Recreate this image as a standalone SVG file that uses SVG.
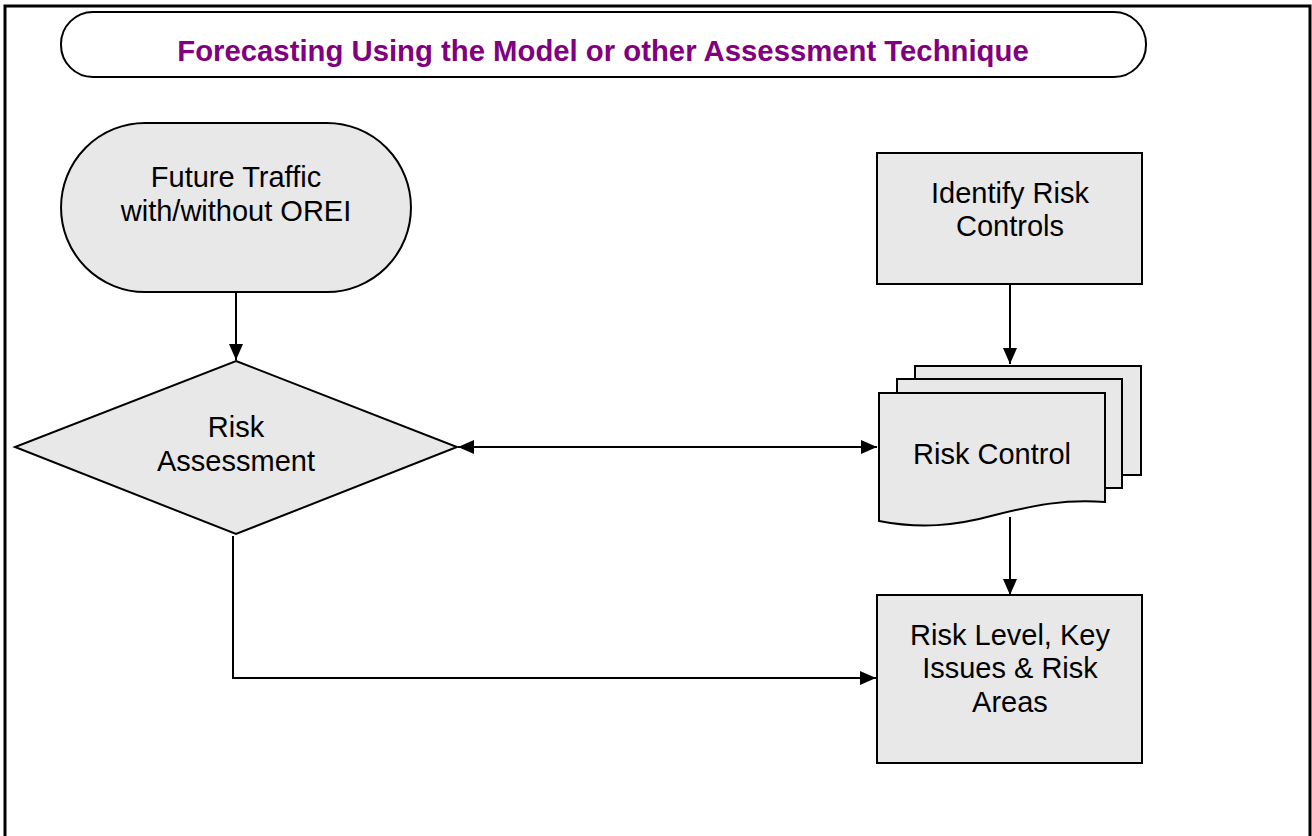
<svg xmlns="http://www.w3.org/2000/svg" width="1312" height="836" viewBox="0 0 1312 836">
  <defs>
    <marker id="arr" viewBox="0 0 16 14" refX="16" refY="7" markerWidth="16" markerHeight="14" markerUnits="userSpaceOnUse" orient="auto-start-reverse">
      <path d="M0,0 L16,7 L0,14 Z" fill="#000"/>
    </marker>
  </defs>
  <style>
    .shape { fill: #e8e8e8; stroke: #000; stroke-width: 2; }
    .lbl { font-family: "Liberation Sans", Arial, sans-serif; font-size: 29px; fill: #000; text-anchor: middle; }
    .title { font-family: "Liberation Sans", Arial, sans-serif; font-size: 29.3px; font-weight: bold; fill: #800080; text-anchor: middle; }
    .conn { fill: none; stroke: #000; stroke-width: 2; }
  </style>
  <rect width="1312" height="836" fill="#fff"/>
  <g id="frame">
    <path d="M5,845 V6 H1310 V845" fill="none" stroke="#000" stroke-width="3"/>
  </g>
  <g id="title">
    <rect x="61" y="12" width="1085" height="65" rx="32" ry="32" fill="#fff" stroke="#000" stroke-width="2"/>
    <text class="title" x="603" y="61">Forecasting Using the Model or other Assessment Technique</text>
  </g>
  <g id="future-traffic">
    <path class="shape" d="M145,123 H327 A84,84.5 0 0 1 327,292 H145 A84,84.5 0 0 1 145,123 Z"/>
    <text class="lbl" x="236" y="187">Future Traffic</text>
    <text class="lbl" x="236" y="221">with/without OREI</text>
  </g>
  <g id="risk-assessment">
    <polygon class="shape" points="236,361 457,447 236,534 15,447"/>
    <text class="lbl" x="236" y="437">Risk</text>
    <text class="lbl" x="236" y="471">Assessment</text>
  </g>
  <g id="identify-risk-controls">
    <rect class="shape" x="877" y="153" width="265" height="131"/>
    <text class="lbl" x="1010" y="203">Identify Risk</text>
    <text class="lbl" x="1010" y="236">Controls</text>
  </g>
  <g id="risk-control">
    <rect class="shape" x="915" y="366" width="226" height="109"/>
    <rect class="shape" x="897" y="379" width="225" height="109"/>
    <path class="shape" d="M879,393 H1105 V502 C1065,499 1035,505 995,515 C955,526 920,529 879,521 Z"/>
    <text class="lbl" x="992" y="464">Risk Control</text>
  </g>
  <g id="risk-level">
    <rect class="shape" x="877" y="595" width="265" height="168"/>
    <text class="lbl" x="1010" y="645">Risk Level, Key</text>
    <text class="lbl" x="1010" y="678">Issues &amp; Risk</text>
    <text class="lbl" x="1010" y="712">Areas</text>
  </g>
  <g id="connectors">
    <path class="conn" d="M236,292 V360" marker-end="url(#arr)"/>
    <path class="conn" d="M458,447 H877" marker-start="url(#arr)" marker-end="url(#arr)"/>
    <path class="conn" d="M1010,284 V364" marker-end="url(#arr)"/>
    <path class="conn" d="M1010,517 V595" marker-end="url(#arr)"/>
    <path class="conn" d="M233,536 V678 H876" marker-end="url(#arr)"/>
  </g>
</svg>
